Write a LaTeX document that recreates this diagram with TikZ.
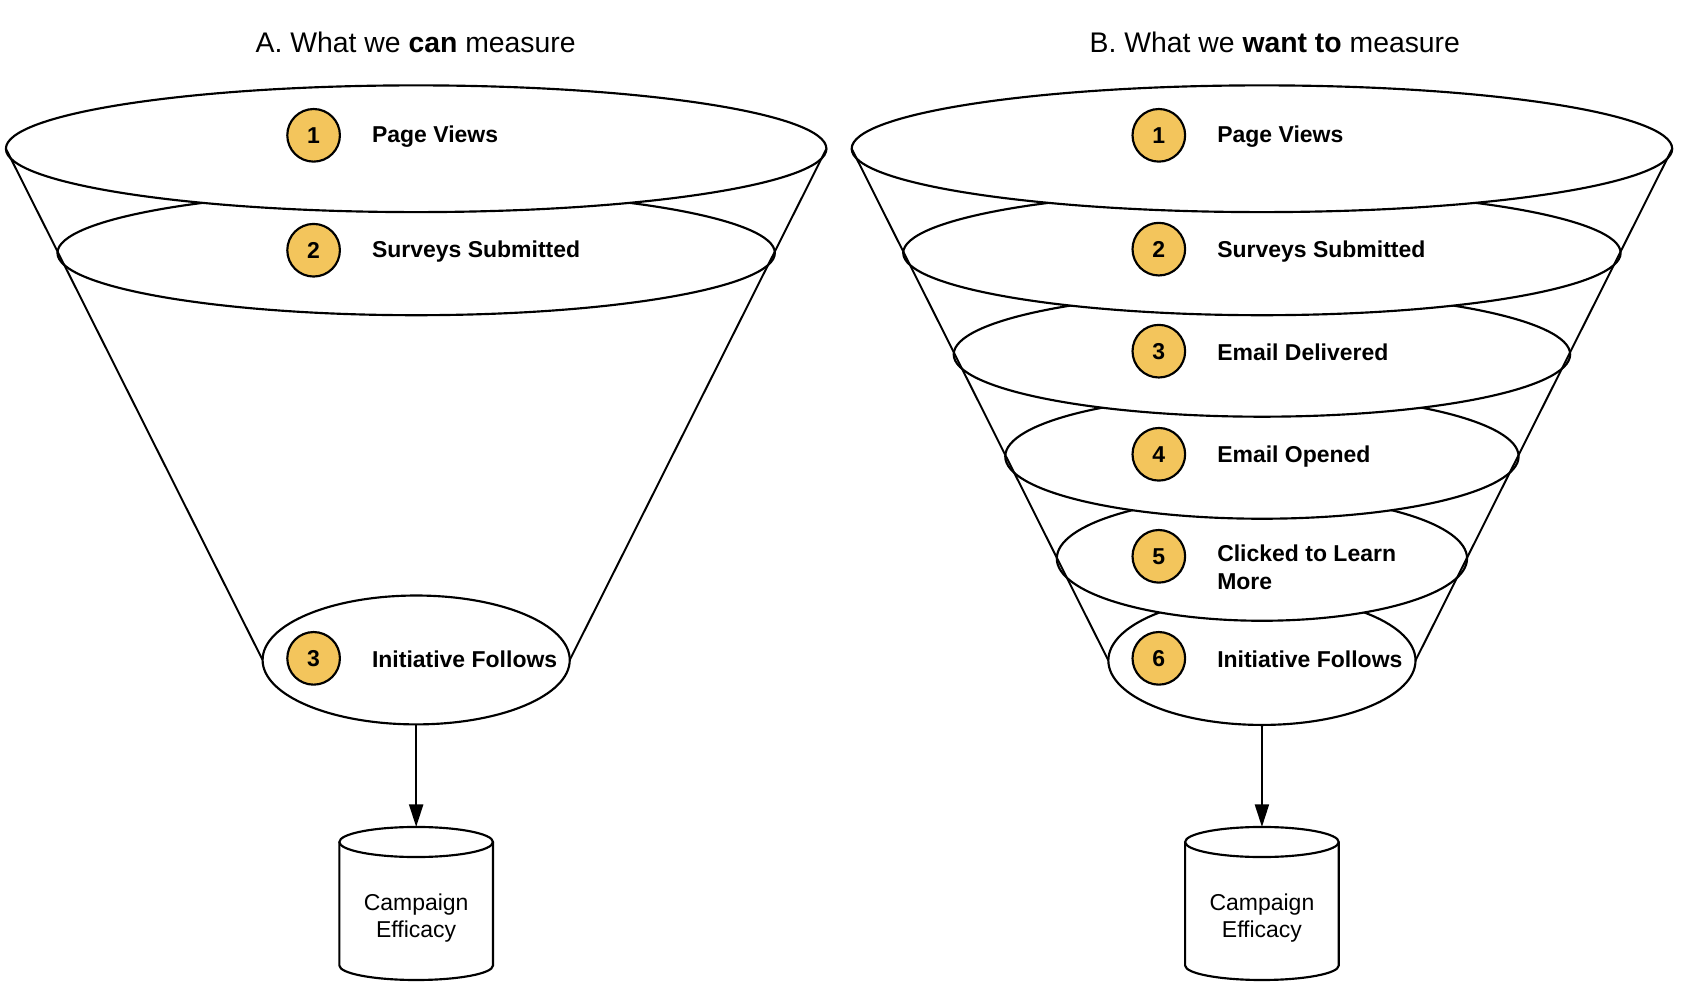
\documentclass[tikz,border=0pt]{standalone}
\usepackage{fontspec}
\setmainfont{Liberation Sans}
\usetikzlibrary{shapes.geometric,arrows.meta}
\definecolor{badgeyellow}{HTML}{F3C55C}
\begin{document}
\begin{tikzpicture}[x=0.5pt,y=-0.5pt,
  funnelell/.style={ellipse, draw=black, line width=1pt, fill=white, inner sep=0pt, outer sep=0pt},
  badge/.style={circle, draw=black, line width=1pt, fill=badgeyellow, minimum size=24.5pt, inner sep=0pt, font=\fontsize{10.7}{13}\selectfont\bfseries},
  lbl/.style={anchor=base west, inner sep=0pt, font=\fontsize{10.7}{13}\selectfont\bfseries},
  lbltop/.style={anchor=north west, align=left, inner sep=0pt, font=\fontsize{10.7}{13}\selectfont\bfseries},
  ttl/.style={anchor=base, inner sep=0pt, font=\fontsize{13.2}{16}\selectfont},
  side/.style={line width=0.9pt},
  arr/.style={line width=1pt, -{Triangle[length=10.5pt,width=6.5pt]}},
  cyl/.style={line width=1pt, fill=white},
  cyltext/.style={align=center, inner sep=0pt, font=\fontsize{10.7}{12.75}\selectfont}
]
\fill[white] (0,0) rectangle (1568,929);
\useasboundingbox (0,0) rectangle (1568,929);

% Titles
\node[ttl] (titleA) at (387,48.5) {A. What we \textbf{can} measure};
\node[ttl] (titleB) at (1187,48.5) {B. What we \textbf{want to} measure};

% ---------- Funnel A ----------
\node[funnelell, minimum width=143pt, minimum height=60pt] (a3) at (387.5,614.5) {};
\node[funnelell, minimum width=334pt, minimum height=58pt] (a2) at (387.5,235.5) {};
\node[funnelell, minimum width=382pt, minimum height=59pt] (a1) at (387.5,138.5) {};
\draw[side] (a1.west) -- (a3.west);
\draw[side] (a1.east) -- (a3.east);

\node[badge] (ba1) at (292,126) {1};
\node[badge] (ba2) at (292,233) {2};
\node[badge] (ba3) at (292,613) {3};
\node[lbl] (la1) at (346,132.7) {Page Views};
\node[lbl] (la2) at (346,239.7) {Surveys Submitted};
\node[lbl] (la3) at (346,621.7) {Initiative Follows};

% Cylinder A
\draw[cyl] (316,784) -- (316,899) arc[start angle=180,end angle=0,x radius=71.5,y radius=13.5] -- (459,784);
\draw[cyl] (387.5,784) ellipse[x radius=71.5, y radius=14];
\coordinate (cA) at (387.5,770);
\node[cyltext] (cyA) at (387.5,855) {Campaign\\Efficacy};
\draw[arr] (a3.south) -- (cA);

% ---------- Funnel B ----------
\node[funnelell, minimum width=143pt, minimum height=60pt] (b6) at (1175,615) {};
\node[funnelell, minimum width=191pt, minimum height=58pt] (b5) at (1175,520) {};
\node[funnelell, minimum width=239pt, minimum height=58pt] (b4) at (1175,425) {};
\node[funnelell, minimum width=287pt, minimum height=58pt] (b3) at (1175,330) {};
\node[funnelell, minimum width=334pt, minimum height=58pt] (b2) at (1175,235.5) {};
\node[funnelell, minimum width=382pt, minimum height=59pt] (b1) at (1175,138.5) {};
\draw[side] (b1.west) -- (b6.west);
\draw[side] (b1.east) -- (b6.east);

\node[badge] (bb1) at (1079,126) {1};
\node[badge] (bb2) at (1079,232) {2};
\node[badge] (bb3) at (1079,327) {3};
\node[badge] (bb4) at (1079,423) {4};
\node[badge] (bb5) at (1079,518) {5};
\node[badge] (bb6) at (1079,613) {6};
\node[lbl] (lb1) at (1133,132.7) {Page Views};
\node[lbl] (lb2) at (1133,239.7) {Surveys Submitted};
\node[lbl] (lb3) at (1133,335.7) {Email Delivered};
\node[lbl] (lb4) at (1133,430.7) {Email Opened};
\node[lbltop] (lb5) at (1133,507.3) {Clicked to Learn\\More};
\node[lbl] (lb6) at (1133,621.7) {Initiative Follows};

% Cylinder B
\draw[cyl] (1103.5,784) -- (1103.5,899) arc[start angle=180,end angle=0,x radius=71.5,y radius=13.5] -- (1246.5,784);
\draw[cyl] (1175,784) ellipse[x radius=71.5, y radius=14];
\coordinate (cB) at (1175,770);
\node[cyltext] (cyB) at (1175,855) {Campaign\\Efficacy};
\draw[arr] (b6.south) -- (cB);
\end{tikzpicture}
\end{document}
